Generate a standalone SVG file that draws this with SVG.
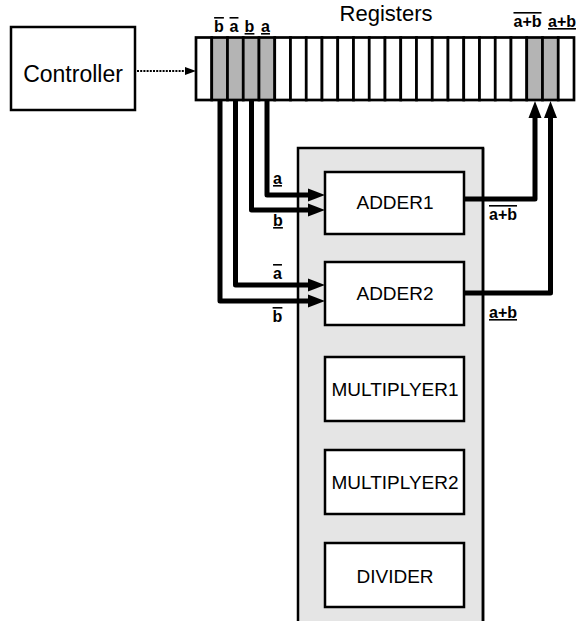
<svg xmlns="http://www.w3.org/2000/svg" width="577" height="621" viewBox="0 0 577 621">
<style>
.box{fill:#fff;stroke:#000;stroke-width:2.5}
.cell{fill:#fff;stroke:#000;stroke-width:2.7}
.cg{fill:#b4b4b4;stroke:#000;stroke-width:2.7}
.name{font-family:"Liberation Sans",Arial,sans-serif;font-size:19px;fill:#000;text-anchor:middle}
.lbl{font-family:"Liberation Sans",Arial,sans-serif;font-size:16px;font-weight:bold;fill:#000}
.wire{fill:none;stroke:#000;stroke-width:5;stroke-linejoin:round}
.ov{text-decoration:overline}
.un{text-decoration:underline}
</style>
<defs>
<marker id="ah" markerUnits="userSpaceOnUse" markerWidth="17" markerHeight="14" refX="0" refY="7" orient="auto" viewBox="0 0 17 14">
<path d="M0,0.5 L17,7 L0,13.5 z" fill="#000"/>
</marker>
<marker id="ahs" markerUnits="userSpaceOnUse" markerWidth="11" markerHeight="9" refX="0" refY="4.5" orient="auto" viewBox="0 0 11 9">
<path d="M0,0.5 L11,4.5 L0,8.5 z" fill="#000"/>
</marker>
</defs>
<rect width="577" height="621" fill="#fff"/>

<g id="controller">
<rect class="box" x="11" y="27" width="124" height="83"/>
<text x="73" y="82" font-family="'Liberation Sans',Arial,sans-serif" font-size="23" text-anchor="middle">Controller</text>
</g>

<g id="registers">
<text x="386" y="21" font-family="'Liberation Sans',Arial,sans-serif" font-size="22" text-anchor="middle">Registers</text>
<rect class="cell" x="196" y="37.5" width="15.75" height="62.5"/>
<rect class="cg" x="211.75" y="37.5" width="15.75" height="62.5"/>
<rect class="cg" x="227.5" y="37.5" width="15.75" height="62.5"/>
<rect class="cg" x="243.25" y="37.5" width="15.75" height="62.5"/>
<rect class="cg" x="259" y="37.5" width="15.75" height="62.5"/>
<rect class="cell" x="274.75" y="37.5" width="15.75" height="62.5"/>
<rect class="cell" x="290.5" y="37.5" width="15.75" height="62.5"/>
<rect class="cell" x="306.25" y="37.5" width="15.75" height="62.5"/>
<rect class="cell" x="322" y="37.5" width="15.75" height="62.5"/>
<rect class="cell" x="337.75" y="37.5" width="15.75" height="62.5"/>
<rect class="cell" x="353.5" y="37.5" width="15.75" height="62.5"/>
<rect class="cell" x="369.25" y="37.5" width="15.75" height="62.5"/>
<rect class="cell" x="385" y="37.5" width="15.75" height="62.5"/>
<rect class="cell" x="400.75" y="37.5" width="15.75" height="62.5"/>
<rect class="cell" x="416.5" y="37.5" width="15.75" height="62.5"/>
<rect class="cell" x="432.25" y="37.5" width="15.75" height="62.5"/>
<rect class="cell" x="448" y="37.5" width="15.75" height="62.5"/>
<rect class="cell" x="463.75" y="37.5" width="15.75" height="62.5"/>
<rect class="cell" x="479.5" y="37.5" width="15.75" height="62.5"/>
<rect class="cell" x="495.25" y="37.5" width="15.75" height="62.5"/>
<rect class="cell" x="511" y="37.5" width="15.75" height="62.5"/>
<rect class="cg" x="526.75" y="37.5" width="15.75" height="62.5"/>
<rect class="cg" x="542.5" y="37.5" width="15.75" height="62.5"/>
<rect class="cell" x="558.25" y="37.5" width="15.75" height="62.5"/>
<text class="lbl ov" x="219" y="32" text-anchor="middle">b</text>
<text class="lbl ov" x="234" y="32" text-anchor="middle">a</text>
<text class="lbl un" x="249.5" y="32" text-anchor="middle">b</text>
<text class="lbl un" x="265.5" y="32" text-anchor="middle">a</text>
<text class="lbl ov" x="527.5" y="27" text-anchor="middle">a+b</text>
<text class="lbl un" x="562" y="27" text-anchor="middle">a+b</text>
</g>

<g id="units">
<rect x="298" y="148" width="185" height="490" fill="#e5e5e5" stroke="#000" stroke-width="2.5"/>
</g>

<g id="adder1">
<rect class="box" x="325" y="172" width="139" height="62"/>
<text class="name" x="395" y="209">ADDER1</text>
</g>
<g id="adder2">
<rect class="box" x="325" y="262" width="139" height="63"/>
<text class="name" x="395" y="300">ADDER2</text>
</g>
<g id="multiplyer1">
<rect class="box" x="325" y="357" width="139" height="64"/>
<text class="name" x="395" y="396">MULTIPLYER1</text>
</g>
<g id="multiplyer2">
<rect class="box" x="325" y="450" width="139" height="64"/>
<text class="name" x="395" y="489">MULTIPLYER2</text>
</g>
<g id="divider">
<rect class="box" x="325" y="543" width="139" height="64"/>
<text class="name" x="395" y="583">DIVIDER</text>
</g>

<g id="connectors">
<line x1="137" y1="71" x2="185" y2="71" stroke="#000" stroke-width="2" stroke-dasharray="2,1.2" marker-end="url(#ahs)"/>
<path class="wire" d="M267,100 V195 H308" marker-end="url(#ah)"/>
<path class="wire" d="M251.5,100 V210 H308" marker-end="url(#ah)"/>
<path class="wire" d="M235.5,100 V285 H308" marker-end="url(#ah)"/>
<path class="wire" d="M220,100 V301 H308" marker-end="url(#ah)"/>
<path class="wire" d="M464,199 H535 V118" marker-end="url(#ah)"/>
<path class="wire" d="M464,293 H550.5 V118" marker-end="url(#ah)"/>
<line x1="483" y1="148" x2="483" y2="621" stroke="#000" stroke-width="2.5"/>
<text class="lbl un" x="277.5" y="184" text-anchor="middle">a</text>
<text class="lbl un" x="278" y="226" text-anchor="middle">b</text>
<text class="lbl ov" x="277.5" y="279" text-anchor="middle">a</text>
<text class="lbl ov" x="277.5" y="322" text-anchor="middle">b</text>
<text class="lbl ov" x="489" y="220">a+b</text>
<text class="lbl un" x="489" y="318">a+b</text>
</g>
</svg>
